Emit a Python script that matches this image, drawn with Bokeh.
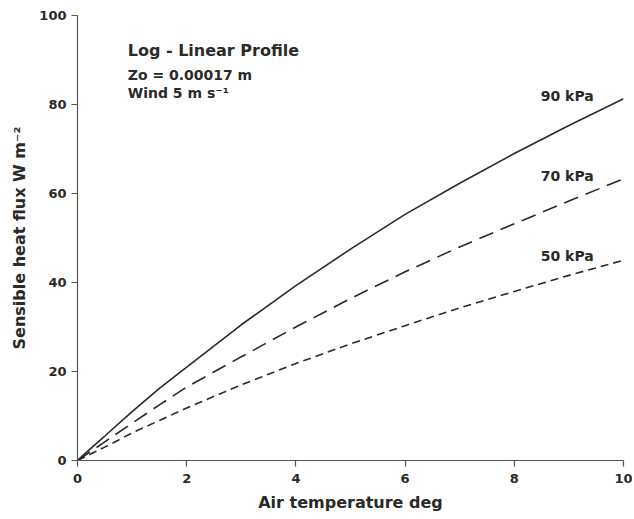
from bokeh.plotting import figure
from bokeh.models import Range1d, FixedTicker, Label
from bokeh.embed import file_html
from bokeh.resources import INLINE

# Data
air_temp = [0, 0.25, 0.5, 1, 1.5, 2, 3, 4, 5, 6, 7, 8, 9, 10]
flux_90kpa = [0, 2.8, 5.5, 11.0, 16.2, 21.0, 30.5, 39.3, 47.5, 55.3, 62.3, 69.0, 75.3, 81.3]
flux_70kpa = [0, 2.1, 4.2, 8.4, 12.5, 16.5, 23.3, 30.0, 36.4, 42.4, 48.0, 53.2, 58.3, 63.3]
flux_50kpa = [0, 1.5, 3.0, 6.2, 9.0, 11.8, 17.0, 21.8, 26.2, 30.3, 34.3, 38.0, 41.6, 45.0]
x_ticks = [0, 2, 4, 6, 8, 10]
y_ticks = [0, 20, 40, 60, 80, 100]
series_labels = ["90 kPa", "70 kPa", "50 kPa"]
label_y = [82, 64, 46]

FONT = "DejaVu Sans"
INK = "#2a2a2a"

p = figure(width=632, height=514, output_backend="svg", toolbar_location=None,
           x_range=Range1d(0, 10), y_range=Range1d(0, 100),
           min_border_left=77, min_border_right=9, min_border_top=15, min_border_bottom=50)
p.outline_line_color = None
p.grid.visible = False
p.background_fill_color = "white"
p.border_fill_color = "white"

for ax in (p.xaxis[0], p.yaxis[0]):
    ax.axis_line_color = "#555555"
    ax.axis_line_width = 1.2
    ax.major_tick_line_color = "#555555"
    ax.major_tick_line_width = 1.2
    ax.major_tick_out = 6
    ax.major_tick_in = 0
    ax.minor_tick_line_color = None
    ax.major_label_text_font = FONT
    ax.major_label_text_font_style = "bold"
    ax.major_label_text_font_size = "13px"
    ax.major_label_text_color = INK
    ax.axis_label_text_font = FONT
    ax.axis_label_text_font_style = "bold"
    ax.axis_label_text_font_size = "16px"
    ax.axis_label_text_color = INK

p.xaxis.ticker = FixedTicker(ticks=x_ticks)
p.yaxis.ticker = FixedTicker(ticks=y_ticks)
p.xaxis.axis_label = "Air temperature deg"
p.yaxis.axis_label = "Sensible heat flux W m\u207b\u00b2"
p.xaxis.major_label_standoff = 7
p.yaxis.major_label_standoff = 5
p.xaxis.axis_label_standoff = 7
p.yaxis.axis_label_standoff = 7

p.line(air_temp, flux_90kpa, line_color=INK, line_width=1.6)
p.line(air_temp, flux_70kpa, line_color=INK, line_width=1.6, line_dash="15 8")
p.line(air_temp, flux_50kpa, line_color=INK, line_width=1.6, line_dash="8 5")

for txt, yy in zip(series_labels, label_y):
    p.add_layout(Label(x=8.97, y=yy, text=txt, text_align="center", text_baseline="middle",
                       text_font=FONT, text_font_style="bold", text_font_size="14px",
                       text_color=INK))

p.add_layout(Label(x=0.92, y=92.1, text="Log - Linear Profile", text_align="left",
                   text_baseline="middle", text_font=FONT, text_font_style="bold",
                   text_font_size="16px", text_color=INK))
p.add_layout(Label(x=0.92, y=86.7, text="Zo = 0.00017 m", text_align="left",
                   text_baseline="middle", text_font=FONT, text_font_style="bold",
                   text_font_size="14px", text_color=INK))
p.add_layout(Label(x=0.92, y=82.5, text="Wind 5 m s\u207b\u00b9", text_align="left",
                   text_baseline="middle", text_font=FONT, text_font_style="bold",
                   text_font_size="14px", text_color=INK))

open("out.html", "w").write(file_html(p, INLINE))
